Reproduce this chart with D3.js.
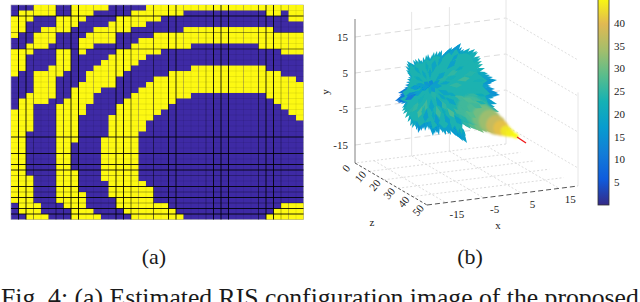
<!DOCTYPE html>
<html>
<head>
<meta charset="utf-8">
<script src="https://cdn.jsdelivr.net/npm/d3@7"></script>
<style>
html, body { margin: 0; padding: 0; background: #fff; overflow: hidden; }
text { font-family: "Liberation Serif", serif; fill: #1a1a1a; }
</style>
</head>
<body>
<svg id="chart" width="640" height="302"></svg>
<script>
const svg = d3.select("#chart");

/*
/   Panel (a): yellow runs of the 39 x 39 matrix, per column, as [first row, last row]
*/
const yellowRuns = [
    [[2,5],[8,12],[19,35]],
    [[1,4],[8,11],[17,37]],
    [[1,2],[7,8],[16,22],[31,38]],
    [[0,1],[5,7],[12,17],[36,38]],
    [[0,1],[4,7],[12,17],[38,38]],
    [[0,1],[4,6],[11,16]],
    [[2,4],[8,12],[18,35]],
    [[2,4],[8,11],[17,36]],
    [[0,3],[15,24],[30,38]],
    [[0,2],[6,8],[14,19],[34,38]],
    [[0,1],[5,7],[12,17],[37,38]],
    [[0,0],[4,6],[11,15],[38,38]],
    [[0,0],[4,6],[10,14],[24,31]],
    [[3,6],[9,14],[20,34]],
    [[2,4],[8,12],[18,36]],
    [[2,4],[8,11],[17,37]],
    [[1,3],[7,10],[16,38]],
    [[1,3],[6,9],[15,22],[32,38]],
    [[0,2],[6,8],[14,20],[33,38]],
    [[0,2],[5,8],[13,19],[36,38]],
    [[0,1],[5,7],[13,18],[36,38]],
    [[0,1],[5,7],[12,17],[37,38]],
    [[0,1],[5,7],[12,16],[38,38]],
    [[0,0],[4,7],[12,16]],
    [[0,0],[4,6],[11,15]],
    [[0,0],[4,6],[11,15]],
    [[0,0],[4,6],[11,15]],
    [[0,0],[4,6],[11,15]],
    [[0,0],[4,6],[11,15]],
    [[0,0],[4,6],[11,15]],
    [[0,0],[4,6],[11,15]],
    [[0,0],[4,6],[11,15]],
    [[0,0],[4,6],[11,15]],
    [[0,0],[4,7],[11,15]],
    [[0,1],[4,7],[12,16],[38,38]],
    [[0,1],[5,7],[12,17],[37,38]],
    [[0,0],[5,8],[13,18],[36,38]],
    [[0,2],[5,8],[13,19],[36,38]],
    [[0,2],[5,8],[14,20],[36,38]]
];

// how dark each grid line looks, column edges then row edges
const colEdgeDark = [0,.85,.85,.3,.08,.08,.5,.5,.85,.85,.08,.08,.08,.08,.85,.85,.55,.08,.08,.5,.08,.85,.85,.08,.08,.08,.3,.85,.85,.85,.08,.08,.08,.5,.85,.85,.3,.08,.08,0];
const rowEdgeDark = [0,.08,.8,.08,.08,.4,.08,.08,.5,.08,.08,.08,.08,.08,.08,.08,.08,.08,.08,.08,.08,.08,.08,.08,.85,.08,.08,.85,.08,.85,.85,.3,.08,.85,.3,.85,.3,.85,.85,0];

/*
/   Panel (b): tips of the spikes of the radiation blob, [x, y, value]
*/
const rimTips = [
    [-10.75,7.75,19],[-9.75,7,20],[-8.75,8.25,21],[-7.25,8,20],[-6,9.25,21],[-5,8.75,20],[-4,10,21],
    [-2.5,10.25,20],[-1.5,9.5,19],[-.5,10.5,18],[.5,11.25,18],[1.25,10.5,19],[2,11.75,17],[2.75,12.25,17],
    [3.5,10.75,18],[5,11,21],[6.25,10.75,21],[7,10,22],[7.75,8.5,22],[8.25,7,23],[9,5,21],[10,4.25,19],
    [11.75,3,17],[10.5,2.25,16],[10.25,1.5,18],[12,-.25,16],[12.5,-.75,15],[11,-1.5,18],[11.75,-3,18],
    [12.25,-5,24],[10.75,-10.25,32],[9.25,-10,30],[7.5,-9.75,30],[6,-9.25,26],[4.5,-8.75,23],[4.25,-12.75,18],
    [3.5,-10.75,18],[3.25,-12.25,17],[2.25,-10,19],[1.5,-11,17],[.75,-9,19],[-.25,-10.5,17],[-1,-10.75,18],
    [-2.25,-9.5,19],[-3.25,-10.25,16],[-4.25,-11,17],[-4.75,-8.75,18],[-5.75,-9,19],[-6.75,-9.25,17],
    [-8,-10.25,15],[-8.75,-8.75,20],[-10,-8.5,20],[-11.25,-6.5,23],[-12,-4.75,22],[-11.5,-3.25,17],
    [-13,-2.75,10],[-13.75,-2.25,10],[-12.25,-1.5,11],[-13,-.25,11],[-11.75,.5,13],[-11.25,1.75,15],
    [-10.75,3.25,19],[-10.25,4.25,19],[-11,5.5,20]
];
const fringeTips = [
    [-10.25,7.25,20],[-9.25,8,19],[-8,8.5,20],[-6.75,8.75,20],[-5.5,9.5,19],[-4.5,9.25,20],[-3.25,10.25,20],
    [-2,10.5,19],[-1,10,18],[0,11,17],[.9,10.75,18],[1.6,11.25,18],[2.4,12,16],[3,11.25,17],[4.25,10.5,19],
    [5.75,10.5,21],[6.75,10.25,22],[7.5,9,22],[8,7.75,23],[8.75,6,22],[9.5,4.75,20],[10.75,3.75,18],[11,2.75,16],
    [11.25,.75,16],[11.5,-.5,15],[11.75,-1,16],[10.5,-2.25,18],[11.25,-3.75,19],[11.5,-4.5,21],
    [10,-9.75,30],[8.5,-10.25,30],[6.75,-9.5,28],[5.25,-9.25,25],[4,-11,20],[3.9,-12,18],[2.75,-11,18],[2,-11.25,17],
    [1,-10,19],[.25,-10.75,18],[-.6,-9.75,18],[-1.75,-10.25,18],[-2.75,-10.75,17],[-3.75,-10.5,17],[-5.25,-9.5,18],
    [-6.25,-9.75,17],[-7.25,-9.75,16],[-8.5,-9.5,17],[-9.5,-9,20],[-10.6,-7.5,21],[-11.75,-5.5,22],
    [-12,-4,20],[-12.25,-3,14],[-13.25,-2.5,10],[-13,-1.75,10],[-12.75,-.9,11],[-12.25,0,12],[-11.5,1,14],
    [-11,2.5,17],[-10.5,3.75,18],[-10.75,4.9,20],[-11.1,6.4,19],[-10.9,7.1,20]
];
const innerTips = [
    [-8,-6.5,27],[-6.5,-5,26],[-9.5,-5,25],[-2.5,-6.5,26],[-.75,-4.5,25],[1.25,-6.5,27],[3,-5.75,26],
    [5,-5,26],[6.5,-6.5,28],[4,-2,26],[6,-2.5,27],[8,-4,26],[3,1.75,25],[5,3.5,26],[2,5.5,25],[6.5,5,24],
    [5,8,23],[-.5,4,24],[-1,7.5,23],[-3.5,-2,24],[-6.25,-2,23],
    [-5.5,1.5,11],[-4.5,3,14],[-6.5,2.5,16],[-3.75,0,17],[-2,1.5,18],[0,-.75,19],[-2,-4,18],[-4.5,-5,19],
    [1.5,-3.25,19],[0,-8.25,18],[3,-8.25,19],[-3,-8.5,17],[-6.25,-7.5,18],[1.5,8,18],[-1.25,5,19],
    [-3.75,8,19],[-7.5,.5,17],[-9.5,-1,18],[-10,1,17],[-11.25,-2,11]
];
const streakTips = [
    [-9,4,21],[-7,5.5,20],[-5,6,19],[-2.5,3,17],[0,2.5,19],[1.5,4,22],[3.5,6.5,21],[4,0,23],[1.5,-1,20],
    [-1,-2,19],[-5,-.5,20],[-8,-3,22],[-8.5,2,18],[-7,-6,23],[-4,-7,20],[-1,-6,21],[2,-4.5,23],[4.5,-7.5,24],
    [7,.5,23],[8.5,3,22],[9,-1,21],[7,-1,25],[9,-3,23],[2,9.5,18],[-2,9,19],[-6,7.5,21],[-9,6.5,20],[-11,-1,14],
    [-10.5,-5.5,24]
];
const tailPoints = [
    [5,-4,26],[7,-5.25,27],[8.5,-6.25,30],[10,-7.25,33],[11.5,-8.25,37],[12.75,-9,40],[14,-9.75,43],
    [15,-10.25,44],[16,-10.75,45],[16.5,-11,45]
];
const redPath = [[16.75,-11.25],[19,-12.75]];

// axes of panel (b)
const xTicks = [-15, -5, 5, 15];
const yTicks = [15, 5, -5, -15];
const zTicks = [0, 10, 20, 30, 40, 50];
const wallXLines = [-5, 5];
const colorbarTicks = [5, 10, 15, 20, 25, 30, 35, 40];
const caption = "Fig. 4: (a) Estimated RIS configuration image of the proposed";

/*
/   Colors
*/
const parulaStops = ["#352a87", "#0f5cdd", "#127dd8", "#079ccf", "#15b1b4", "#59bd8c", "#a5be6b", "#e1b952", "#f9fb0e"];
const parula = d3.scaleLinear()
    .domain(parulaStops.map((d, i) => 45 * i / (parulaStops.length - 1)))
    .range(parulaStops);

/*
/   Panel (a)
*/
const cols = d3.scaleBand().domain(d3.range(39)).range([11, 303.5]);
const rows = d3.scaleBand().domain(d3.range(39)).range([5, 219.5]);

const heat = svg.append("g");
heat.append("rect")
    .attr("x", 11).attr("y", 5)
    .attr("width", 292.5).attr("height", 214.5)
    .attr("fill", "#3e2aa5")
    .attr("stroke", "#9a9aa8")
    .attr("stroke-width", 0.6);

const cells = yellowRuns.flatMap((runs, c) => runs.map(r => ({ c: c, from: r[0], to: r[1] })));
heat.selectAll("rect.run")
    .data(cells)
    .join("rect")
    .attr("class", "run")
    .attr("x", d => cols(d.c))
    .attr("y", d => rows(d.from))
    .attr("width", cols.bandwidth())
    .attr("height", d => (d.to - d.from + 1) * rows.bandwidth())
    .attr("fill", "#fdf912");

heat.selectAll("line.v")
    .data(colEdgeDark)
    .join("line")
    .attr("class", "v")
    .attr("x1", (d, i) => 11 + i * cols.bandwidth())
    .attr("x2", (d, i) => 11 + i * cols.bandwidth())
    .attr("y1", 5).attr("y2", 219.5)
    .attr("stroke", "#000").attr("stroke-opacity", d => d);

heat.selectAll("line.h")
    .data(rowEdgeDark)
    .join("line")
    .attr("class", "h")
    .attr("y1", (d, i) => 5 + i * rows.bandwidth())
    .attr("y2", (d, i) => 5 + i * rows.bandwidth())
    .attr("x1", 11).attr("x2", 303.5)
    .attr("stroke", "#000").attr("stroke-opacity", d => d);

/*
/   Panel (b): axes box, a hand set oblique projection
*/
const xs = d3.scaleLinear().domain([-20, 20]).range([0, 1]);
const ys = d3.scaleLinear().domain([-20, 20]).range([0, -144]);
const zs = d3.scaleLinear().domain([0, 50]).range([0, 1]);

function project(x, y, z) {
    const t = xs(x);
    return [355 + 151 * t + 72 * zs(z), 163 - 19 * t + 42 * zs(z) + ys(y)];
}

const box = svg.append("g").attr("fill", "none");

function seg(a, b, color, dash, width) {
    box.append("line")
        .attr("x1", a[0]).attr("y1", a[1])
        .attr("x2", b[0]).attr("y2", b[1])
        .attr("stroke", color)
        .attr("stroke-width", width || 1)
        .attr("stroke-dasharray", dash);
}

// walls
yTicks.forEach(y => {
    seg(project(-20, y, 0), project(20, y, 0), "#dcdcdc", "6,4");
    seg(project(20, y, 0), project(20, y, 50), "#dedede", "2,2");
});
wallXLines.forEach(x => seg(project(x, -20, 0), project(x, 20, 0), "#e6e6e6", null));
seg(project(20, -20, 0), project(20, 20, 0), "#e6e6e6", null);
seg(project(20, -20, 50), project(20, 6, 50), "#e6e6e6", null);

// floor
zTicks.slice(1, 5).forEach(z => seg(project(-20, -20, z), project(20, -20, z), "#dcdcdc", "2,2"));
xTicks.forEach(x => seg(project(x, -20, 0), project(x, -20, 50), "#dcdcdc", "2,2"));
seg(project(20, -20, 0), project(-20, -20, 0), "#dcdcdc", "2,2");

// axis lines
seg(project(-20, 20, 0), project(-20, -20, 0), "#808080", null);
seg(project(-20, -20, 0), project(-20, -20, 50), "#555", "3,2");
seg(project(-20, -20, 50), project(20, -20, 50), "#555", "5,3");

svg.selectAll("text.yt")
    .data(yTicks)
    .join("text")
    .attr("class", "yt")
    .attr("x", d => project(-20, d, 0)[0] - 7)
    .attr("y", d => project(-20, d, 0)[1] + 4)
    .attr("text-anchor", "end")
    .attr("font-size", 11)
    .text(d => d);

svg.selectAll("text.xt")
    .data(xTicks)
    .join("text")
    .attr("class", "xt")
    .attr("x", d => project(d, -20, 50)[0] + 11)
    .attr("y", d => project(d, -20, 50)[1] + 15)
    .attr("text-anchor", "middle")
    .attr("font-size", 11)
    .text(d => d);

svg.selectAll("text.zt")
    .data(zTicks)
    .join("text")
    .attr("class", "zt")
    .attr("transform", d => {
        const p = project(-20, -20, d);
        return "translate(" + (p[0] - 8) + "," + (p[1] + 6) + ") rotate(-50)";
    })
    .attr("text-anchor", "middle")
    .attr("dominant-baseline", "middle")
    .attr("font-size", 11)
    .text(d => d);

svg.append("text").attr("transform", "translate(329,92) rotate(-90)").attr("text-anchor", "middle").attr("font-size", 11).text("y");
svg.append("text").attr("x", 498).attr("y", 229).attr("text-anchor", "middle").attr("font-size", 11).text("x");
svg.append("text").attr("x", 372).attr("y", 226).attr("text-anchor", "middle").attr("font-size", 11).text("z");

/*
/   Panel (b): the blob
*/
const bx = d3.scaleLinear().domain([-20, 20]).range([370, 530]);
const by = d3.scaleLinear().domain([-15, 15]).range([152, 32]);
const hub = [bx(-5), by(1.5)];

// a kite pointing away from the hub, ending at the tip
function kite(d, reach, halfWidth) {
    const tip = [bx(d[0]), by(d[1])];
    const dx = tip[0] - hub[0];
    const dy = tip[1] - hub[1];
    const len = Math.hypot(dx, dy) || 1;
    const use = Math.min(reach, len);
    const ux = dx / len;
    const uy = dy / len;
    const back = [tip[0] - ux * use, tip[1] - uy * use];
    const sh = [tip[0] - ux * use * 0.4, tip[1] - uy * use * 0.4];
    return [
        back,
        [sh[0] - uy * halfWidth, sh[1] + ux * halfWidth],
        tip,
        [sh[0] + uy * halfWidth, sh[1] - ux * halfWidth]
    ];
}

const defs = svg.append("defs");
defs.append("filter").attr("id", "soft").append("feGaussianBlur").attr("stdDeviation", 0.45);
defs.append("filter").attr("id", "softer")
    .attr("x", "-20%").attr("y", "-20%").attr("width", "140%").attr("height", "140%")
    .append("feGaussianBlur").attr("stdDeviation", 0.9);

const blob = svg.append("g").attr("filter", "url(#soft)");
const poly = d3.line().curve(d3.curveLinearClosed);

blob.selectAll("path.rim")
    .data(rimTips)
    .join("path")
    .attr("class", "rim")
    .attr("d", d => poly(kite(d, 26, 3.5)))
    .attr("fill", d => parula(d[2]));

blob.selectAll("path.fringe")
    .data(fringeTips)
    .join("path")
    .attr("class", "fringe")
    .attr("d", d => poly(kite(d, 16, 2)))
    .attr("fill", d => parula(d[2]));

// most of the inside reads as one teal mass
blob.append("path")
    .attr("d", poly(rimTips.map(d => [
        hub[0] + (bx(d[0]) - hub[0]) * 0.86,
        hub[1] + (by(d[1]) - hub[1]) * 0.86
    ])))
    .attr("fill", parula(23));

blob.append("g").attr("filter", "url(#softer)")
    .selectAll("circle")
    .data(tailPoints)
    .join("circle")
    .attr("cx", d => bx(d[0]))
    .attr("cy", d => by(d[1]))
    .attr("r", d => d3.scaleLinear().domain([26, 30, 37, 43, 45]).range([13, 12, 10, 5.5, 2.5])(d[2]))
    .attr("fill", d => parula(d[2]));

blob.selectAll("path.inner")
    .data(innerTips)
    .join("path")
    .attr("class", "inner")
    .attr("d", d => poly(kite(d, 13, 2.6)))
    .attr("fill", d => parula(d[2]));

blob.selectAll("path.streak")
    .data(streakTips)
    .join("path")
    .attr("class", "streak")
    .attr("d", d => poly(kite(d, 11, 1.6)))
    .attr("fill", d => parula(d[2]));

svg.append("path")
    .attr("d", d3.line()(redPath.map(d => [bx(d[0]), by(d[1])])))
    .attr("stroke", "#f01818")
    .attr("stroke-width", 1.3)
    .attr("fill", "none");

/*
/   Colorbar
*/
const cb = d3.scaleLinear().domain([0, 45]).range([205, 0]);
const grad = defs.append("linearGradient")
    .attr("id", "parula-bar")
    .attr("x1", "0%").attr("x2", "0%")
    .attr("y1", "100%").attr("y2", "0%");
grad.selectAll("stop")
    .data(parulaStops)
    .join("stop")
    .attr("offset", (d, i) => (100 * i / (parulaStops.length - 1)) + "%")
    .attr("stop-color", d => d);

svg.append("rect")
    .attr("x", 598).attr("y", -2)
    .attr("width", 11).attr("height", 207)
    .attr("fill", "url(#parula-bar)")
    .attr("stroke", "#333")
    .attr("stroke-width", 0.8);

const cbAxis = svg.append("g")
    .attr("transform", "translate(609,0)")
    .call(d3.axisRight(cb).tickValues(colorbarTicks).tickSize(0).tickPadding(5));
cbAxis.select(".domain").remove();
cbAxis.selectAll("text").attr("font-size", 11);

/*
/   Captions
*/
svg.append("text").attr("x", 154).attr("y", 264).attr("text-anchor", "middle").attr("font-size", 22).text("(a)");
svg.append("text").attr("x", 470).attr("y", 264).attr("text-anchor", "middle").attr("font-size", 22).text("(b)");
svg.append("text").attr("x", 1).attr("y", 306).attr("font-size", 25.7).text(caption);
</script>
</body>
</html>
